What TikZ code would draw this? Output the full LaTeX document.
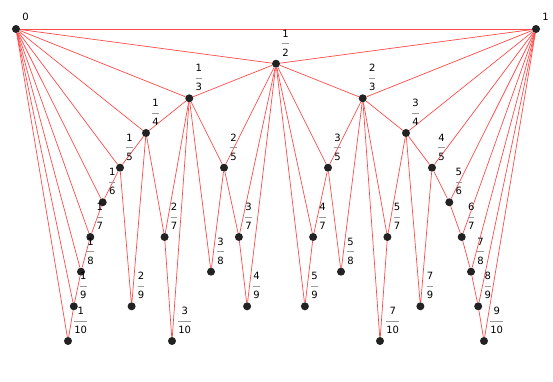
\documentclass[tikz,border=0pt]{standalone}
\usepackage{fontspec}
\setmainfont{DejaVu Sans}
\usetikzlibrary{positioning, backgrounds}
\definecolor{dotcol}{HTML}{222222}
\definecolor{edgecol}{HTML}{FF4A4A}
\definecolor{fracbar}{HTML}{999999}

% stacked fraction label with a grey bar
\newlength{\fracw}
\newcommand{\fr}[2]{\settowidth{\fracw}{#2}%
  \begin{tabular}{@{}c@{}}#1\\[-2.5pt]\textcolor{fracbar}{\rule[2.5pt]{\fracw}{1pt}}\\[-2.5pt]#2\end{tabular}}

\tikzset{
  dot/.style={circle, fill=dotcol, inner sep=0pt, minimum size=8pt},
  lbl/.style={inner sep=0pt, xshift=3.2pt, yshift=0.6pt},
  edge/.style={draw=edgecol, line width=0.7pt}
}

\begin{document}
\begin{tikzpicture}[x=1pt, y=-1pt]
        \useasboundingbox (0,0) rectangle (553,382);
        % Farey fractions, denominators up to 10
        \node[dot, label={[lbl, yshift=4.5pt]above right:0}] (n0_1) at (16,29) {};
        \node[dot, label={[lbl, yshift=4.5pt]above right:1}] (n1_1) at (536,29) {};

        \node[dot, label={[lbl]above right:\fr{1}{2}}] (n1_2) at (276,63.7) {};

        \node[dot, label={[lbl]above right:\fr{1}{3}}] (n1_3) at (189.3,98.3) {};
        \node[dot, label={[lbl]above right:\fr{2}{3}}] (n2_3) at (362.7,98.3) {};

        \node[dot, label={[lbl]above right:\fr{1}{4}}] (n1_4) at (146,133) {};
        \node[dot, label={[lbl]above right:\fr{3}{4}}] (n3_4) at (406,133) {};

        \node[dot, label={[lbl]above right:\fr{1}{5}}] (n1_5) at (120,167.7) {};
        \node[dot, label={[lbl]above right:\fr{2}{5}}] (n2_5) at (224,167.7) {};
        \node[dot, label={[lbl]above right:\fr{3}{5}}] (n3_5) at (328,167.7) {};
        \node[dot, label={[lbl]above right:\fr{4}{5}}] (n4_5) at (432,167.7) {};

        \node[dot, label={[lbl]above right:\fr{1}{6}}] (n1_6) at (102.7,202.3) {};
        \node[dot, label={[lbl]above right:\fr{5}{6}}] (n5_6) at (449.3,202.3) {};

        \node[dot, label={[lbl]above right:\fr{1}{7}}] (n1_7) at (90.3,237) {};
        \node[dot, label={[lbl]above right:\fr{2}{7}}] (n2_7) at (164.6,237) {};
        \node[dot, label={[lbl]above right:\fr{3}{7}}] (n3_7) at (238.9,237) {};
        \node[dot, label={[lbl]above right:\fr{4}{7}}] (n4_7) at (313.1,237) {};
        \node[dot, label={[lbl]above right:\fr{5}{7}}] (n5_7) at (387.4,237) {};
        \node[dot, label={[lbl]above right:\fr{6}{7}}] (n6_7) at (461.7,237) {};

        \node[dot, label={[lbl]above right:\fr{1}{8}}] (n1_8) at (81,271.7) {};
        \node[dot, label={[lbl]above right:\fr{3}{8}}] (n3_8) at (211,271.7) {};
        \node[dot, label={[lbl]above right:\fr{5}{8}}] (n5_8) at (341,271.7) {};
        \node[dot, label={[lbl]above right:\fr{7}{8}}] (n7_8) at (471,271.7) {};

        \node[dot, label={[lbl]above right:\fr{1}{9}}] (n1_9) at (73.8,306.3) {};
        \node[dot, label={[lbl]above right:\fr{2}{9}}] (n2_9) at (131.6,306.3) {};
        \node[dot, label={[lbl]above right:\fr{4}{9}}] (n4_9) at (247.1,306.3) {};
        \node[dot, label={[lbl]above right:\fr{5}{9}}] (n5_9) at (304.9,306.3) {};
        \node[dot, label={[lbl]above right:\fr{7}{9}}] (n7_9) at (420.4,306.3) {};
        \node[dot, label={[lbl]above right:\fr{8}{9}}] (n8_9) at (478.2,306.3) {};

        \node[dot, label={[lbl]above right:\fr{1}{10}}] (n1_10) at (68,341) {};
        \node[dot, label={[lbl]above right:\fr{3}{10}}] (n3_10) at (172,341) {};
        \node[dot, label={[lbl]above right:\fr{7}{10}}] (n7_10) at (380,341) {};
        \node[dot, label={[lbl]above right:\fr{9}{10}}] (n9_10) at (484,341) {};

        % each fraction joined to its two Farey parents
        \begin{scope}[on background layer]
        \draw[edge] (n0_1) -- (n1_1);
        \draw[edge] (n1_2) -- (n0_1) (n1_2) -- (n1_1);
        \draw[edge] (n1_3) -- (n0_1) (n1_3) -- (n1_2);
        \draw[edge] (n2_3) -- (n1_2) (n2_3) -- (n1_1);
        \draw[edge] (n1_4) -- (n0_1) (n1_4) -- (n1_3);
        \draw[edge] (n3_4) -- (n2_3) (n3_4) -- (n1_1);
        \draw[edge] (n1_5) -- (n0_1) (n1_5) -- (n1_4);
        \draw[edge] (n2_5) -- (n1_3) (n2_5) -- (n1_2);
        \draw[edge] (n3_5) -- (n1_2) (n3_5) -- (n2_3);
        \draw[edge] (n4_5) -- (n3_4) (n4_5) -- (n1_1);
        \draw[edge] (n1_6) -- (n0_1) (n1_6) -- (n1_5);
        \draw[edge] (n5_6) -- (n4_5) (n5_6) -- (n1_1);
        \draw[edge] (n1_7) -- (n0_1) (n1_7) -- (n1_6);
        \draw[edge] (n2_7) -- (n1_4) (n2_7) -- (n1_3);
        \draw[edge] (n3_7) -- (n2_5) (n3_7) -- (n1_2);
        \draw[edge] (n4_7) -- (n1_2) (n4_7) -- (n3_5);
        \draw[edge] (n5_7) -- (n2_3) (n5_7) -- (n3_4);
        \draw[edge] (n6_7) -- (n5_6) (n6_7) -- (n1_1);
        \draw[edge] (n1_8) -- (n0_1) (n1_8) -- (n1_7);
        \draw[edge] (n3_8) -- (n1_3) (n3_8) -- (n2_5);
        \draw[edge] (n5_8) -- (n3_5) (n5_8) -- (n2_3);
        \draw[edge] (n7_8) -- (n6_7) (n7_8) -- (n1_1);
        \draw[edge] (n1_9) -- (n0_1) (n1_9) -- (n1_8);
        \draw[edge] (n2_9) -- (n1_5) (n2_9) -- (n1_4);
        \draw[edge] (n4_9) -- (n3_7) (n4_9) -- (n1_2);
        \draw[edge] (n5_9) -- (n1_2) (n5_9) -- (n4_7);
        \draw[edge] (n7_9) -- (n3_4) (n7_9) -- (n4_5);
        \draw[edge] (n8_9) -- (n7_8) (n8_9) -- (n1_1);
        \draw[edge] (n1_10) -- (n0_1) (n1_10) -- (n1_9);
        \draw[edge] (n3_10) -- (n2_7) (n3_10) -- (n1_3);
        \draw[edge] (n7_10) -- (n2_3) (n7_10) -- (n5_7);
        \draw[edge] (n9_10) -- (n8_9) (n9_10) -- (n1_1);
        \end{scope}
    \end{tikzpicture}
\end{document}
